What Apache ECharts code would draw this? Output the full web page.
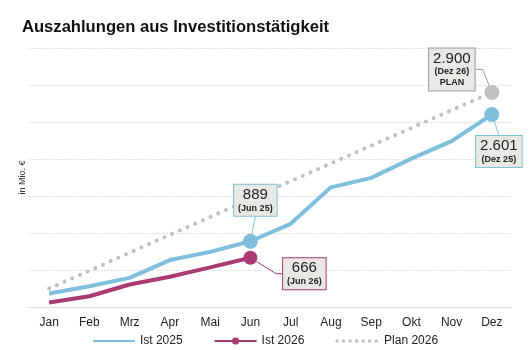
<!DOCTYPE html>
<html><head><meta charset="utf-8">
<script src="https://cdn.jsdelivr.net/npm/echarts@6/dist/echarts.min.js"></script>
<style>html,body{margin:0;padding:0;background:#fff}#c{width:530px;height:350px}</style>
</head><body><div id="c"></div>
<script>
const months = ['Jan','Feb','Mrz','Apr','Mai','Jun','Jul','Aug','Sep','Okt','Nov','Dez'];
const ist2025 = [182, 281, 394, 634, 745, 889, 1124, 1617, 1745, 2005, 2242, 2601];
const ist2026 = [60, 145, 304, 408, 535, 666];
const plan2026 = [250, 490, 735, 975, 1215, 1460, 1700, 1940, 2180, 2420, 2660, 2900];
const yTicks = [0, 500, 1000, 1500, 2000, 2500, 3000, 3500];

const C_BLUE = '#80bfdb', C_MAG = '#aa3a72', C_GRAY = '#bcc1c1', BOX_BG = '#e8e8e4';
const FONT = 'Liberation Sans, Arial, sans-serif';

function fmt(v){ return v >= 1000 ? Math.floor(v/1000) + '.' + String(v%1000).padStart(3,'0') : String(v); }

function richBox(border){
  return {
    show: true, position: 'inside', backgroundColor: BOX_BG, borderColor: border, borderWidth: 1,
    padding: [2, 4, 2, 4], align: 'center',
    rich: {
      v: {fontSize: 15, fontFamily: FONT, color: '#222', lineHeight: 16, align: 'center'},
      d: {fontSize: 9, fontWeight: 'bold', fontFamily: FONT, color: '#222', lineHeight: 11, align: 'center'}
    }
  };
}

const blueData = ist2025.map((v, i) => {
  if (i === 5) return {value: v, symbol: 'circle', symbolSize: 15,
    label: Object.assign(richBox(C_BLUE), {formatter: '{v|' + fmt(v) + '}\n{d|(Jun 25)}'})};
  if (i === 11) return {value: v, symbol: 'circle', symbolSize: 15,
    label: Object.assign(richBox(C_BLUE), {formatter: '{v|' + fmt(v) + '}\n{d|(Dez 25)}'})};
  return {value: v, symbol: 'none'};
});
const magData = ist2026.map((v, i) => {
  if (i === 5) return {value: v, symbol: 'circle', symbolSize: 14,
    label: Object.assign(richBox(C_MAG), {formatter: '{v|' + fmt(v) + '}\n{d|(Jun 26)}'})};
  return {value: v, symbol: 'none'};
});
const planData = plan2026.map((v, i) => {
  if (i === 11) return {value: v, symbol: 'circle', symbolSize: 15,
    label: Object.assign(richBox('#999'), {formatter: '{v|' + fmt(v) + '}\n{d|(Dez 26)}\n{d|PLAN}'})};
  return {value: v, symbol: 'none'};
});

const hidden = {color: 'rgba(0,0,0,0)', borderWidth: 0, opacity: 0};

const chart = echarts.init(document.getElementById('c'), null, {renderer: 'canvas'});
chart.setOption({
  animation: false,
  textStyle: {fontFamily: FONT},
  title: {text: 'Auszahlungen aus Investitionstätigkeit', left: 17, top: 14,
    textStyle: {fontSize: 16.6, fontWeight: 'bold', color: '#111', fontFamily: FONT}},
  grid: {left: 29, right: 18, top: 48, bottom: 43},
  legend: {
    top: 330, left: 'center', itemWidth: 42, itemHeight: 9, itemGap: 31,
    textStyle: {fontSize: 12, color: '#222', fontFamily: FONT},
    data: [
      {name: 'Ist 2025', itemStyle: hidden},
      {name: 'Ist 2026'},
      {name: 'Plan 2026', itemStyle: hidden, lineStyle: {type: [0.01, 6.5], width: 3.5}}
    ]
  },
  xAxis: {
    type: 'category', data: months, boundaryGap: true,
    axisLine: {lineStyle: {color: '#dcdcdc', width: 1}},
    axisTick: {show: false},
    axisLabel: {color: '#222', fontSize: 12, margin: 10, fontFamily: FONT}
  },
  yAxis: {
    type: 'value', min: yTicks[0], max: yTicks[yTicks.length-1], interval: 500,
    name: 'in Mio. €', nameLocation: 'middle', nameGap: 2, nameRotate: 90,
    nameTextStyle: {fontSize: 9, color: '#333', fontFamily: FONT},
    axisLine: {show: false}, axisTick: {show: false}, axisLabel: {show: false},
    splitLine: {lineStyle: {color: '#d6d6d6', type: [1.5, 1.5], width: 1}}
  },
  series: [
    {name: 'Plan 2026', type: 'line', data: planData, symbol: 'none', z: 2,
      itemStyle: {color: C_GRAY},
      lineStyle: {color: C_GRAY, width: 4, type: [0.01, 8.4], cap: 'round'},
      labelLine: {show: true, length2: 7, lineStyle: {color: '#999', width: 1}},
      labelLayout: function(p){ return {dx: -40, dy: -23}; }
    },
    {name: 'Ist 2025', type: 'line', data: blueData, symbol: 'none', z: 3,
      itemStyle: {color: C_BLUE},
      lineStyle: {color: C_BLUE, width: 4},
      labelLine: {show: true, lineStyle: {color: C_BLUE, width: 1}},
      labelLayout: function(p){ return p.dataIndex === 5 ? {dx: 5, dy: -41} : {dx: 7, dy: 37}; }
    },
    {name: 'Ist 2026', type: 'line', data: magData, symbol: 'circle', symbolSize: 12, z: 4,
      itemStyle: {color: C_MAG},
      lineStyle: {color: C_MAG, width: 4},
      labelLine: {show: true, length2: 6, lineStyle: {color: C_MAG, width: 1}},
      labelLayout: function(p){ return {dx: 54, dy: 16}; }
    }
  ]
});
</script></body></html>
